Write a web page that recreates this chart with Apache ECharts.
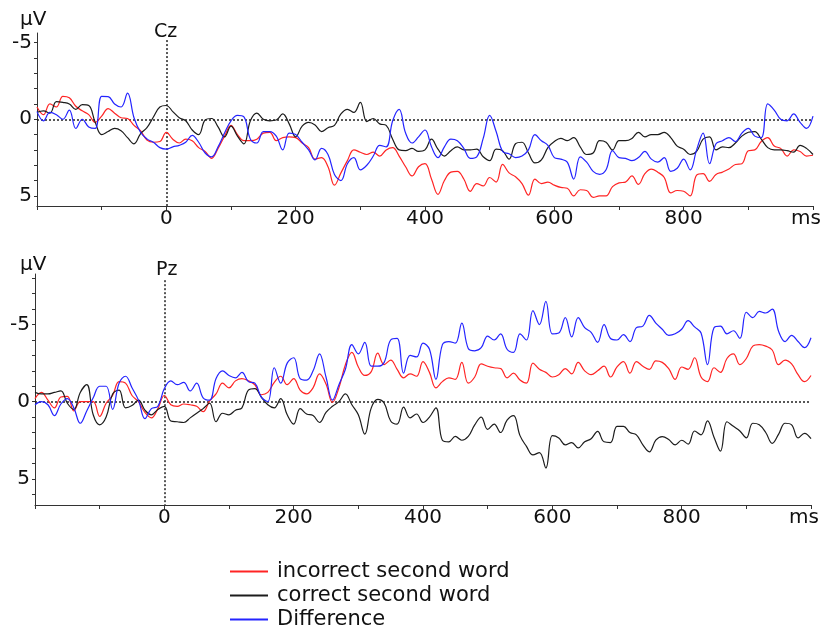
<!DOCTYPE html>
<html>
<head>
<meta charset="utf-8">
<title>ERP Cz / Pz</title>
<script src="https://cdn.jsdelivr.net/npm/echarts@6/dist/echarts.min.js"></script>
<style>
  html, body { margin: 0; padding: 0; background: #ffffff; }
  #chart { width: 824px; height: 635px; }
</style>
</head>
<body>
<div id="chart"></div>
<script>
// Sampling grid of the averaged waveforms (ms)
const tStart = -200;
const tStep = 10;

// Amplitudes in µV, one value per 10 ms from -200 to 1000 ms (negative plotted up)
const czIncorrect = [
  -0.8, -0.3, -1.0, -0.8, -1.5, -1.4, -0.85, -0.55, -0.3, 0.2,
  -0.2, -0.7, -0.4, -0.1, -0.05, 0.4, 0.75, 1.35, 1.5, 1.45,
  0.85, 1.3, 1.55, 1.3, 1.4, 1.85, 2.1, 2.55, 1.9, 1.1,
  0.4, 1.0, 1.4, 1.4, 1.3, 0.9, 0.85, 1.4, 1.2, 1.15,
  1.2, 1.55, 1.85, 2.6, 2.5, 3.1, 4.3, 3.5, 2.7, 2.0,
  2.15, 2.3, 2.15, 2.4, 2.0, 1.85, 2.4, 3.1, 3.7, 3.1,
  2.9, 3.9, 4.9, 4.0, 3.45, 3.4, 3.9, 4.7, 4.2, 4.35,
  3.8, 4.1, 2.95, 3.5, 3.75, 4.2, 4.95, 3.9, 4.2, 4.1,
  4.3, 4.45, 4.5, 5.0, 4.6, 4.65, 5.1, 5.0, 5.0, 4.4,
  4.15, 4.1, 3.7, 4.25, 3.55, 3.25, 3.45, 3.8, 4.8, 4.65,
  4.7, 5.0, 3.65, 3.55, 4.05, 3.6, 3.45, 3.25, 2.95, 2.9,
  2.05, 2.0, 1.45, 1.2, 1.75, 1.9, 2.4, 2.0, 2.1, 2.4,
  2.35
];
const czCorrect = [
  -0.45, -0.55, -0.4, -1.15, -1.1, -1.0, -0.65, -0.95, -0.9, 0.2,
  1.0, 0.8, 0.6, 0.75, 1.2, 1.6, 0.95, 0.55, -0.15, -0.8,
  -0.9, -0.5, -0.1, 0.1, 0.7, 1.0, 0.05, -0.05, 0.5, 1.15,
  0.45, 1.1, 1.6, 0.1, -0.4, 0.0, 0.1, 0.05, -0.35, 0.3,
  1.15, 0.45, 0.2, 0.37, 0.8, 0.55, 0.4, -0.35, -0.65, -0.45,
  -1.1, 0.15, -0.05, 0.3, 0.4, 1.3, 2.0, 2.05, 1.9, 2.1,
  2.0, 1.3, 1.95, 2.4, 2.05, 1.8, 2.0, 2.0, 1.95, 2.45,
  2.7, 1.95, 2.05, 2.6, 1.6, 1.5, 2.2, 2.85, 2.65, 1.85,
  1.45, 1.25, 1.4, 1.2, 1.8, 2.3, 2.2, 1.4, 1.5, 2.0,
  1.4, 1.4, 1.25, 0.85, 1.15, 1.0, 1.0, 0.85, 1.2, 1.75,
  1.95, 2.3, 2.1, 1.3, 1.15, 2.0, 1.8, 1.85, 1.55, 1.1,
  0.85, 0.8, 1.3, 1.85, 2.0, 2.0, 2.05, 2.15, 1.7, 1.9,
  2.3
];
const czDifference = [
  -0.5, 0.1, -0.45, -0.3, 0.0, -0.6, 0.6, 0.0, 0.5, 0.6,
  -1.5, -1.48, -1.0, -0.8, -1.7, -0.1, 0.85, 1.28, 1.5, 1.85,
  1.95, 1.8, 1.7, 1.5, 1.05, 1.5, 2.2, 2.45, 1.8, 0.9,
  0.1, -0.25, -0.15, 1.3, 1.55, 0.8, 0.8, 1.1, 2.0, 0.9,
  1.0, 1.5, 2.0, 2.65, 1.9, 2.3, 3.6, 4.0, 2.9, 2.5,
  3.3, 3.0, 2.4, 1.7, 1.8, 0.1, -0.65, 0.9, 1.55, 1.15,
  0.7, 1.8, 2.5, 1.8, 1.3, 1.4, 1.9, 2.55, 2.45, 1.25,
  -0.25, 0.8, 2.1, 2.25, 2.5, 2.4, 2.0, 1.0, 1.4, 1.7,
  2.5, 2.6, 2.8, 3.9, 2.45, 2.8, 3.4, 3.6, 3.3, 2.05,
  2.5, 2.55, 2.7, 2.5, 2.1, 2.6, 2.8, 2.5, 3.4, 3.2,
  2.6, 3.3, 2.0, 0.9, 2.9, 1.6, 1.4, 1.2, 1.45, 0.9,
  0.6, 1.1, 1.2, -1.0, -0.6, 0.0, 0.1, -0.35, 0.2, 0.6,
  -0.2
];
const pzIncorrect = [
  -0.2, -0.6, -0.1, 0.4, -0.3, -0.35, 0.6, 0.0, 0.0, 0.0,
  0.95, 0.1, -0.4, -1.3, -1.2, -0.4, 0.0, 0.7, 1.05, 0.45,
  -0.4, 0.2, 0.3, 0.15, 0.2, 0.3, 0.65, -0.05, -0.5, -1.2,
  -0.9, -1.35, -1.5, -1.35, -1.1, -0.45, -0.6, -1.25, -1.65, -1.1,
  -1.5, -0.75, -0.5, -0.9, -1.8, -1.15, 0.05, -0.9, -2.4, -3.2,
  -2.25, -1.7, -1.95, -3.15, -2.4, -2.7, -2.1, -1.55, -1.8, -1.65,
  -2.6, -1.9, -0.9, -1.3, -1.55, -1.45, -2.55, -1.2, -1.6, -2.45,
  -2.3, -2.2, -2.15, -1.55, -1.85, -1.4, -1.2, -2.5, -2.1, -1.9,
  -1.6, -1.75, -2.15, -1.8, -2.55, -2.0, -1.75, -2.0, -2.3, -1.6,
  -2.25, -2.6, -1.85, -2.6, -2.3, -2.1, -2.65, -2.55, -2.15, -1.45,
  -2.25, -2.1, -2.85, -1.6, -1.3, -2.2, -1.9, -2.8, -3.1, -2.4,
  -2.8, -3.6, -3.7, -3.6, -3.35, -2.4, -2.7, -2.45, -1.75, -1.3,
  -1.7
];
const pzCorrect = [
  -0.6, -0.5, -0.5, -0.6, -0.7, 0.1, 0.5, -0.6, -1.1, 0.85,
  1.5, 1.0, -0.5, -0.75, 0.4, 0.25, -0.1, 0.55, 0.85, 0.5,
  0.3, 1.25, 1.3, 1.35, 1.05, 0.75, 0.45, 0.1, 1.3, 0.75,
  0.85, 0.55, 0.4, -0.75, -0.85, -0.3, 0.2, 0.4, -0.2, 0.85,
  1.45, 0.45, 0.8, 0.9, 1.35, 0.7, 0.3, 0.0, -0.5, 0.2,
  0.85, 2.1, 0.4, -0.15, 0.1, 1.25, 1.45, 0.35, 1.05, 0.8,
  1.35, 1.0, 0.4, 2.5, 2.6, 2.25, 2.5, 2.25, 1.5, 1.0,
  1.8, 1.45, 2.0, 1.2, 0.9, 2.2, 2.9, 3.45, 3.3, 4.3,
  2.2, 2.35, 2.8, 2.65, 3.0, 2.6, 2.4, 1.93, 2.6, 2.65,
  1.6, 1.6, 2.0, 2.15, 2.8, 3.25, 2.5, 2.26, 2.45, 2.8,
  2.5, 2.75, 1.9, 2.15, 1.25, 2.3, 3.2, 1.3, 1.6, 1.9,
  2.35, 1.4, 1.5, 2.0, 2.7, 2.1, 1.4, 1.5, 2.35, 2.05,
  2.4
];
const pzDifference = [
  0.2, 0.0, 0.2, 0.9, 0.15, -0.2, 0.4, 1.4, 0.6, -0.25,
  -1.0, -1.0, 0.5, -1.2, -1.65, -0.9, -0.1, 1.1, 0.45, 0.3,
  -0.85, -1.35, -1.1, -1.25, -0.7, -1.2, -0.25, -0.1, -1.5, -2.0,
  -1.7, -1.55, -1.9, -1.3, -1.2, -0.3, 0.0, -2.2, -1.2, -2.5,
  -2.85, -1.5, -1.4, -2.0, -3.1, -1.6, -0.1, -1.1, -2.1, -3.7,
  -3.1, -3.85, -2.3, -2.3, -2.55, -4.0, -4.1, -1.85, -3.0, -2.9,
  -3.8, -3.4, -1.45, -3.7, -3.9, -3.8, -5.1, -3.45, -3.3, -3.5,
  -4.25, -4.0, -4.4, -3.4, -3.2, -4.4, -4.0, -5.9, -5.0, -6.5,
  -4.4, -4.45, -5.45, -4.2, -5.45, -4.8, -4.5, -3.85, -5.0, -4.1,
  -4.0, -4.35, -3.9, -4.8, -4.9, -5.6, -5.1, -4.7, -4.3, -4.4,
  -4.7, -5.25, -4.85, -4.45, -2.4, -4.8, -4.9, -4.4, -4.6, -4.1,
  -5.8, -5.45, -5.85, -5.75, -6.0, -4.55, -3.9, -4.3, -3.9, -3.5,
  -4.15
];

// Axis ticks and labels
const xLabelValues = [0, 200, 400, 600, 800];
const yLabelValues = [-5, 0, 5];
const czTickValues = [-5, -4, -3, -2, -1, 0, 1, 2, 3, 4, 5];
const pzTickValues = [-8, -7, -6, -5, -4, -3, -2, -1, 0, 1, 2, 3, 4, 5, 6];

const seriesNames = ['incorrect second word', 'correct second word', 'Difference'];
const seriesColors = ['#ff2424', '#1c1c1c', '#2424ff'];

const FONT = '"DejaVu Sans", Verdana, sans-serif';
const AXIS_COLOR = '#333333';

const times = czIncorrect.map((_, i) => tStart + i * tStep);
const pairs = values => values.map((v, i) => [times[i], v]);

function xAxisFor(gridIndex) {
  return {
    type: 'value', gridIndex, min: -200, max: 1000, interval: 100,
    axisLine: { show: true, onZero: false, lineStyle: { color: AXIS_COLOR, width: 1 } },
    axisTick: { show: true, length: 4, lineStyle: { color: AXIS_COLOR, width: 1 } },
    splitLine: { show: false },
    axisLabel: {
      show: true, margin: 3, color: '#111', fontFamily: FONT, fontSize: 20,
      formatter: v => (v === 1000 ? '{u|ms}' : (xLabelValues.indexOf(v) >= 0 ? String(v) : '')),
      rich: { u: { fontFamily: FONT, fontSize: 20, color: '#111', padding: [0, 14, 0, 0] } }
    }
  };
}

function yAxisFor(gridIndex, min, max, ticks) {
  return {
    type: 'value', gridIndex, inverse: true, min, max,
    axisLine: { show: true, onZero: false, lineStyle: { color: AXIS_COLOR, width: 1 } },
    axisTick: { show: true, length: 3, customValues: ticks, lineStyle: { color: AXIS_COLOR, width: 1 } },
    splitLine: { show: false },
    axisLabel: { show: true, margin: 5, customValues: yLabelValues, color: '#111', fontFamily: FONT, fontSize: 20 }
  };
}

const dotted = { type: [2, 2], color: '#222', width: 1.5 };

function panelSeries(idx, values, zeroTop, yMax) {
  return values.map((vals, k) => {
    const s = {
      name: seriesNames[k], type: 'line', xAxisIndex: idx, yAxisIndex: idx,
      data: pairs(vals), symbol: 'none', showSymbol: false, smooth: 0.4,
      lineStyle: { color: seriesColors[k], width: 1.2 },
      itemStyle: { color: seriesColors[k] },
      silent: true, z: 3 + k
    };
    if (k === 0) {
      s.markLine = {
        silent: true, symbol: ['none', 'none'], label: { show: false },
        lineStyle: dotted, animation: false, z: 2,
        data: [
          { yAxis: 0 },
          [{ coord: [0, zeroTop] }, { coord: [0, yMax] }]
        ]
      };
    }
    return s;
  });
}

const CZ_MIN = -5.63, CZ_MAX = 5.66;
const PZ_MIN = -8.28, PZ_MAX = 6.70;

const chart = echarts.init(document.getElementById('chart'), null, { renderer: 'canvas' });
chart.setOption({
  backgroundColor: '#ffffff',
  animation: false,
  grid: [
    { left: 37, top: 33, width: 776, height: 173 },
    { left: 35, top: 274, width: 776, height: 231 }
  ],
  xAxis: [xAxisFor(0), xAxisFor(1)],
  yAxis: [
    yAxisFor(0, CZ_MIN, CZ_MAX, czTickValues),
    yAxisFor(1, PZ_MIN, PZ_MAX, pzTickValues)
  ],
  legend: {
    orient: 'vertical', left: 230, top: 561, height: 80, padding: 0,
    icon: 'rect', itemWidth: 38, itemHeight: 2, itemGap: 3,
    selectedMode: false, data: seriesNames,
    textStyle: { fontFamily: FONT, fontSize: 21, color: '#111', lineHeight: 21, padding: [0, 0, 0, 4] }
  },
  graphic: [
    { type: 'text', left: 20, top: 10, style: { text: 'µV', fontFamily: FONT, fontSize: 20, fill: '#111' } },
    { type: 'text', left: 154, top: 23, style: { text: 'Cz', fontFamily: FONT, fontSize: 19, fill: '#111' } },
    { type: 'text', left: 20, top: 255, style: { text: 'µV', fontFamily: FONT, fontSize: 20, fill: '#111' } },
    { type: 'text', left: 156, top: 261, style: { text: 'Pz', fontFamily: FONT, fontSize: 19, fill: '#111' } }
  ],
  series: [
    ...panelSeries(0, [czIncorrect, czCorrect, czDifference], -5.17, CZ_MAX),
    ...panelSeries(1, [pzIncorrect, pzCorrect, pzDifference], -7.88, PZ_MAX)
  ]
});
</script>
</body>
</html>
